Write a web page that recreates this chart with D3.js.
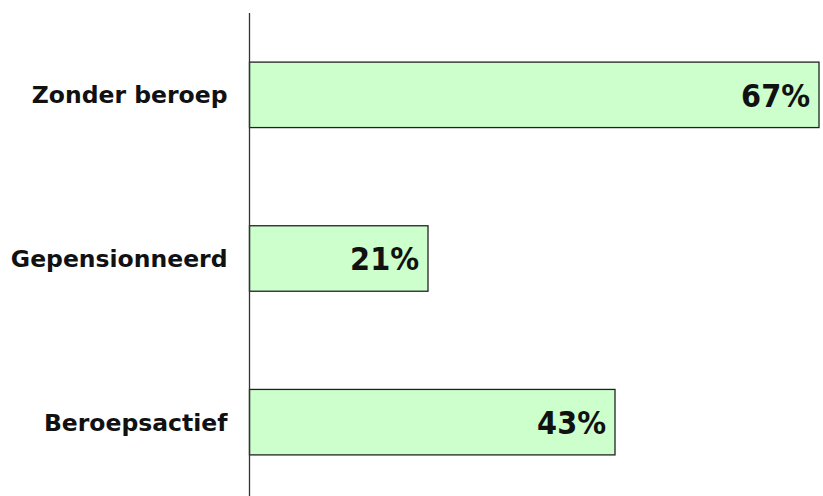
<!DOCTYPE html>
<html>
<head>
<meta charset="utf-8">
<script src="https://cdn.jsdelivr.net/npm/d3@7"></script>
<style>
  body { margin: 0; background: #fff; }
  text { font-family: "DejaVu Sans", sans-serif; font-weight: bold; fill: #111; }
</style>
</head>
<body>
<div class="chart"></div>
<script>
// data, top to bottom as in the picture
var categories = ["Zonder beroep", "Gepensionneerd", "Beroepsactief"];
var values = [67, 21, 43];

var W = 823, H = 496;
var axisX = 249.5;

var svg = d3.select(".chart").append("svg")
    .attr("width", W)
    .attr("height", H);

// set the ranges
var x = d3.scaleLinear().domain([0, 67]).range([axisX, 819]);
var y = d3.scaleBand().domain(categories).range([13, 504]).paddingInner(0.6).paddingOuter(0.3);

var data = categories.map(function(c, i) { return {cat: c, val: values[i]}; });

// bars
svg.selectAll("rect.bar")
    .data(data)
    .enter().append("rect")
    .attr("class", "bar")
    .attr("x", x(0))
    .attr("y", function(d) { return y(d.cat); })
    .attr("width", function(d) { return x(d.val) - x(0); })
    .attr("height", y.bandwidth())
    .attr("fill", "#ccffcc")
    .attr("stroke", "#222")
    .attr("stroke-width", 1.3);

// value labels inside the bar end
svg.selectAll("text.val")
    .data(data)
    .enter().append("text")
    .attr("class", "val")
    .attr("x", function(d) { return x(d.val) - 9; })
    .attr("y", function(d) { return y(d.cat) + y.bandwidth() / 2; })
    .attr("dy", "0.37em")
    .attr("text-anchor", "end")
    .style("font-family", "'DejaVu Sans Condensed', 'DejaVu Sans', sans-serif")
    .style("font-stretch", "condensed")
    .style("font-size", "32px")
    .text(function(d) { return d.val + "%"; });

// Add the Y Axis (only the labels, the line is drawn below)
var yAxis = d3.axisLeft(y).tickSize(0).tickPadding(22);
var gy = svg.append("g")
    .attr("transform", "translate(" + axisX + ",0)")
    .call(yAxis);
gy.select(".domain").remove();
gy.selectAll("text")
    .attr("fill", "#111")
    .attr("dy", "0.36em")
    .style("font-size", "23.5px")
    .style("font-family", "'DejaVu Sans', sans-serif")
    .style("font-weight", "bold");

svg.append("line")
    .attr("x1", axisX).attr("x2", axisX)
    .attr("y1", 13).attr("y2", H)
    .attr("stroke", "#333")
    .attr("stroke-width", 1.3);
</script>
</body>
</html>
